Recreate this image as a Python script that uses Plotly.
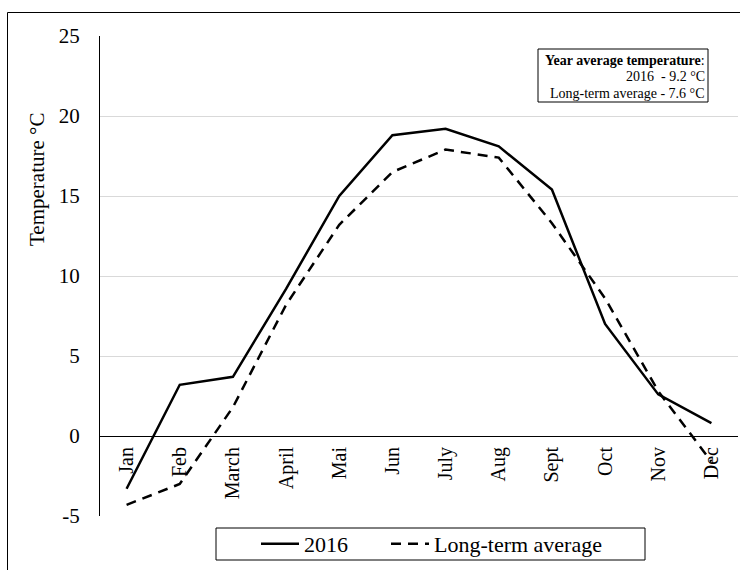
import plotly.graph_objects as go

months = ["Jan", "Feb", "March", "April", "Mai", "Jun", "July", "Aug", "Sept", "Oct", "Nov", "Dec"]
temp_2016 = [-3.3, 3.2, 3.7, 9.2, 15.0, 18.8, 19.2, 18.1, 15.4, 7.0, 2.6, 0.8]
temp_longterm = [-4.3, -3.0, 1.8, 8.2, 13.2, 16.5, 17.9, 17.4, 13.3, 8.6, 2.8, -1.6]
y_ticks = [-5, 0, 5, 10, 15, 20, 25]
y_tick_labels = ["-5", "0", "5", "10", "15", "20", "25"]
info_lines = ["<b>Year average temperature</b>:", "2016&nbsp; - 9.2 °C", "Long-term average - 7.6 °C"]

FONT = "Liberation Serif, Times New Roman, serif"

# pixel helpers for layout (plot area: x 100..738, y 36..516)
L, R, T, B = 100, 738, 36, 516
def px(x):
    return (x - L) / (R - L)
def py(y):
    return (B - y) / (B - T)

fig = go.Figure()
fig.add_trace(go.Scatter(x=months, y=temp_2016, mode="lines", name="2016", legend="legend",
                         line=dict(color="black", width=2.5)))
fig.add_trace(go.Scatter(x=months, y=temp_longterm, mode="lines", name="Long-term average",
                         legend="legend2",
                         line=dict(color="black", width=2.5, dash="10px,7px")))

leg_common = dict(orientation="h", xanchor="left", yanchor="middle",
                  font=dict(size=22, family=FONT), bgcolor="rgba(0,0,0,0)", itemwidth=38)

annotations = [
    dict(text="Temperature °C", xref="paper", yref="paper", x=px(37), y=py(180),
         xanchor="center", yanchor="middle",
         textangle=-90, showarrow=False, font=dict(size=21, family=FONT)),
]
for line_text, yc in zip(info_lines, [60, 76.5, 93]):
    annotations.append(dict(text=line_text, xref="paper", yref="paper", x=px(707), y=py(yc),
                            xanchor="right", yanchor="middle", align="right", showarrow=False,
                            font=dict(size=14, family=FONT)))

fig.update_layout(
    width=740, height=570,
    margin=dict(l=L, r=740 - R, t=T, b=570 - B, autoexpand=False),
    paper_bgcolor="white", plot_bgcolor="white",
    font=dict(family=FONT, color="black"),
    showlegend=True,
    legend=dict(x=px(256), y=py(544), **leg_common),
    legend2=dict(x=px(386), y=py(544), **leg_common),
    xaxis=dict(type="category", range=[-0.5, 11.5], anchor="free", position=1/6,
               showline=True, linecolor="black", linewidth=1, showgrid=False,
               ticks="", tickangle=-90, tickfont=dict(size=20, family=FONT),
               ticklabelstandoff=2, zeroline=False),
    yaxis=dict(range=[-5, 25], tickvals=y_ticks, ticktext=y_tick_labels, showline=True,
               linecolor="black", linewidth=1,
               showgrid=True, gridcolor="#d9d9d9", gridwidth=1, zeroline=False,
               ticks="", tickfont=dict(size=21, family=FONT), ticklabelstandoff=15),
    shapes=[
        # outer frame
        dict(type="line", xref="paper", yref="paper", x0=px(7.5), x1=px(760), y0=py(12.5), y1=py(12.5),
             line=dict(color="black", width=1)),
        dict(type="line", xref="paper", yref="paper", x0=px(7.5), x1=px(7.5), y0=py(12.5), y1=py(600),
             line=dict(color="black", width=1)),
        # annotation box
        dict(type="rect", xref="paper", yref="paper", x0=px(538), x1=px(708), y0=py(102), y1=py(49),
             line=dict(color="black", width=1), fillcolor="white", layer="above"),
        # legend box
        dict(type="rect", xref="paper", yref="paper", x0=px(216), x1=px(645), y0=py(560), y1=py(528),
             line=dict(color="black", width=1), fillcolor="rgba(0,0,0,0)", layer="above"),
    ],
    annotations=annotations,
)

fig.write_html("out.html", config={"displayModeBar": False},
               post_script="document.body.style.margin='0';")
